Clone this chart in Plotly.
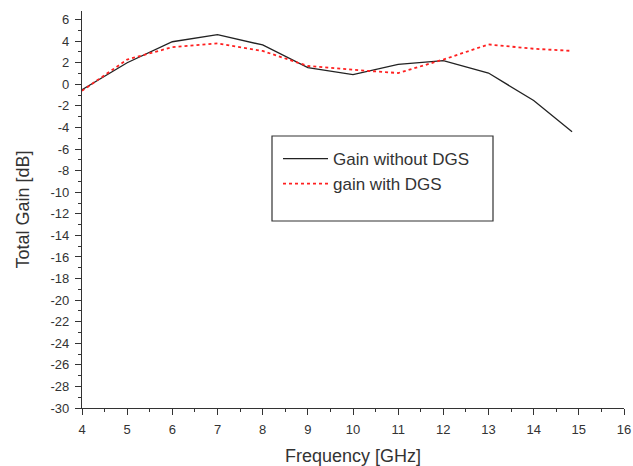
import plotly.graph_objects as go

freq = [4, 5, 6, 7, 8, 9, 10, 11, 12, 13, 14, 14.85]
gain_without = [-0.5, 2.0, 3.95, 4.6, 3.65, 1.55, 0.9, 1.85, 2.2, 1.05, -1.5, -4.4]
gain_with = [-0.6, 2.3, 3.45, 3.8, 3.1, 1.7, 1.35, 1.05, 2.3, 3.7, 3.3, 3.1]

yticks = list(range(-30, 7, 2))
yticklabels = [str(v) for v in yticks]
xticks = list(range(4, 17))
xticklabels = [str(v) for v in xticks]

fig = go.Figure()
fig.add_trace(go.Scatter(x=freq, y=gain_without, mode="lines", name="Gain without DGS",
                         line=dict(color="#222222", width=1.3)))
fig.add_trace(go.Scatter(x=freq, y=gain_with, mode="lines", name="gain with DGS",
                         line=dict(color="#ff2020", width=1.8, dash="dot")))

fig.add_shape(type="rect", xref="paper", yref="paper",
              x0=(272 - 82) / 542, x1=(493 - 82) / 542,
              y0=(408 - 221) / 397, y1=(408 - 136) / 397,
              line=dict(color="#333333", width=1.2), fillcolor="rgba(0,0,0,0)")

fig.update_layout(
    width=633, height=466,
    margin=dict(l=82, r=9, t=11, b=58),
    paper_bgcolor="white", plot_bgcolor="white",
    font=dict(family="Liberation Sans, Arial, sans-serif", color="#333333", size=13),
    showlegend=True,
    legend=dict(x=(278 - 82) / 542, y=(408 - 141) / 397, xanchor="left", yanchor="top",
                bgcolor="rgba(0,0,0,0)", borderwidth=0, font=dict(size=17),
                tracegroupgap=0, itemwidth=45),
    xaxis=dict(range=[4, 16], tickvals=xticks, ticktext=xticklabels, automargin=False,
               showgrid=False, zeroline=False, showline=True, linecolor="#333333", linewidth=1.2,
               ticks="outside", ticklen=6, tickcolor="#333333", ticklabelstandoff=3,
               minor=dict(dtick=0.5, ticks="outside", ticklen=3, tickcolor="#333333"),
               title=dict(text="Frequency [GHz]", font=dict(size=18), standoff=14),
               tickfont=dict(size=13)),
    yaxis=dict(range=[-30, 6.8], tickvals=yticks, ticktext=yticklabels, automargin=False,
               showgrid=False, zeroline=False, showline=True, linecolor="#333333", linewidth=1.2,
               ticks="outside", ticklen=6, tickcolor="#333333", ticklabelstandoff=3,
               minor=dict(dtick=1, ticks="outside", ticklen=3, tickcolor="#333333"),
               title=dict(text="Total Gain [dB]", font=dict(size=18), standoff=16),
               tickfont=dict(size=13)),
)

fig.write_html("out.html", config={"displayModeBar": False},
               post_script="document.body.style.margin='0';document.body.style.overflow='hidden';")
